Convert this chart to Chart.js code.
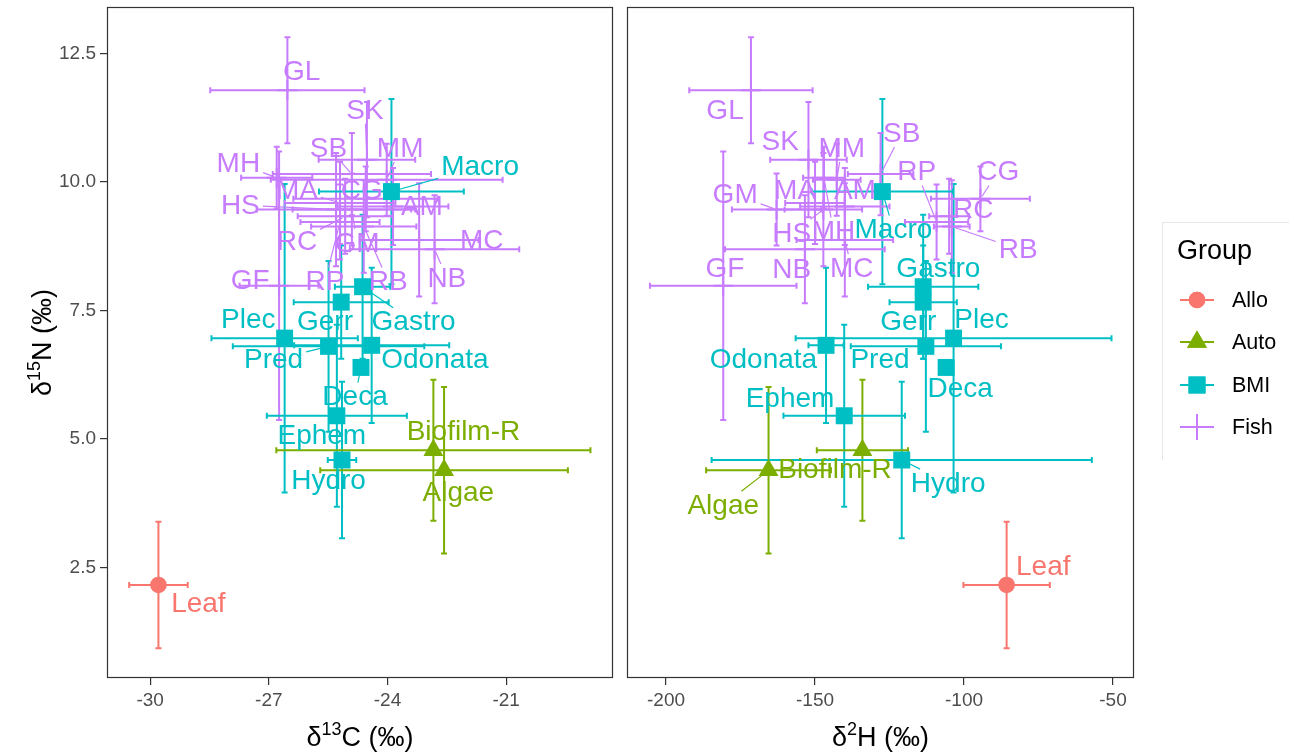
<!DOCTYPE html>
<html>
<head>
<meta charset="utf-8">
<script src="https://cdn.jsdelivr.net/npm/chart.js@4.4.1/dist/chart.umd.min.js"></script>
<style>
    body { margin: 0; background: #fff; }
    #panelC { position: absolute; left: 0; top: 0; }
    #panelH { position: absolute; left: 620px; top: 0; }
</style>
</head>
<body>
<canvas id="panelC" width="620" height="753"></canvas>
<canvas id="panelH" width="669" height="753"></canvas>
<script>
// taxa and their group
var taxa = ['Leaf', 'Biofilm-R', 'Algae', 'Plec', 'Gerr', 'Gastro', 'Pred', 'Odonata', 'Deca', 'Ephem', 'Hydro', 'Macro',
    'GL', 'SK', 'SB', 'MM', 'MH', 'MA', 'CG', 'AM', 'HS', 'GM', 'RC', 'RP', 'RB', 'MC', 'NB', 'GF'];
var taxonGroup = ['Allo', 'Auto', 'Auto', 'BMI', 'BMI', 'BMI', 'BMI', 'BMI', 'BMI', 'BMI', 'BMI', 'BMI',
    'Fish', 'Fish', 'Fish', 'Fish', 'Fish', 'Fish', 'Fish', 'Fish', 'Fish', 'Fish', 'Fish', 'Fish', 'Fish', 'Fish', 'Fish', 'Fish'];

// means and sd
var d15N = [2.16, 4.78, 4.39, 6.96, 7.66, 7.96, 6.80, 6.82, 6.39, 5.45, 4.59, 9.81,
    11.78, 10.43, 10.15, 10.04, 10.08, 9.59, 9.67, 9.52, 9.46, 9.46, 9.33, 9.22, 9.13, 8.87, 8.69, 7.98];
var d15Nsd = [1.23, 1.37, 1.62, 3.0, 1.1, 1.4, 1.66, 1.51, null, 1.77, 1.52, 1.8,
    1.03, 1.12, 0.8, 0.7, 0.6, 0.8, 0.63, 0.75, 1.1, 0.7, 0.73, 0.73, 0.9, 1.1, 1.05, 2.61];
var d13C = [-29.79, -22.84, -22.57, -26.6, -25.17, -24.63, -25.49, -24.40, -24.67, -25.28, -25.15, -23.9,
    -26.53, -24.52, -24.9, -24.02, -26.8, -25.2, -24.55, -23.86, -25.3, -24.9, -25.07, -25.2, -24.6, -23.2, -22.81, -26.74];
var d13Csd = [0.74, 3.97, 3.13, 1.85, 1.2, 0.7, 2.42, 1.96, null, 1.77, 0.36, 1.83,
    1.95, 1.22, 2.0, 2.93, 0.9, 1.4, 1.83, 1.4, 2.0, 1.5, 1.2, 1.0, 1.33, 1.5, 2.14, 1.0];
var d2H = [-85.7, -134.1, -165.6, -103.5, -113.7, -113.7, -112.8, -146.3, -106.0, -140.2, -120.9, -127.4,
    -171.5, -152.2, -128.0, -142.7, -147.0, -150.0, -94.5, -140.0, -147.2, -162.9, -105.0, -109.2, -104.1, -140.0, -153.4, -180.8];
var d2Hsd = [14.5, 15.3, 20.95, 53, 11.3, 18.5, 25.2, 5.9, null, 20.4, 63.8, 23.7,
    20.7, 12.85, 11.0, 8.0, 7.0, 10.0, 16.6, 15.0, 13.0, 15.0, 6.7, 10.6, 6.0, 16.2, 26.8, 24.6];

var groups = ['Allo', 'Auto', 'BMI', 'Fish'];
var ticksN = [2.5, 5.0, 7.5, 10.0, 12.5];
var ticksC = [-30, -27, -24, -21];
var ticksH = [-200, -150, -100, -50];

// where the repelled labels sit (data units of each panel)
var labelAtC = {
    'Leaf': [-28.78, 1.80], 'Biofilm-R': [-22.08, 5.14], 'Algae': [-22.21, 3.97], 'Plec': [-27.52, 7.32],
    'Gerr': [-25.58, 7.28], 'Gastro': [-23.34, 7.28], 'Pred': [-26.88, 6.54], 'Odonata': [-22.80, 6.54],
    'Deca': [-24.82, 5.82], 'Ephem': [-25.66, 5.08], 'Hydro': [-25.49, 4.20], 'Macro': [-21.66, 10.30],
    'GL': [-26.17, 12.15], 'SK': [-24.57, 11.40], 'SB': [-25.49, 10.66], 'MM': [-23.68, 10.66],
    'MH': [-27.77, 10.36], 'MA': [-26.29, 9.84], 'CG': [-24.65, 9.84], 'AM': [-23.13, 9.52],
    'HS': [-27.72, 9.55], 'GM': [-24.77, 8.81], 'RC': [-26.29, 8.84], 'RP': [-25.58, 8.06],
    'RB': [-23.98, 8.06], 'MC': [-21.62, 8.87], 'NB': [-22.5, 8.13], 'GF': [-27.47, 8.09]
};
var labelAtH = {
    'Leaf': [-73.4, 2.52], 'Biofilm-R': [-143.3, 4.40], 'Algae': [-180.8, 3.71], 'Plec': [-94.1, 7.32],
    'Gerr': [-118.7, 7.28], 'Gastro': [-108.6, 8.32], 'Pred': [-128.2, 6.54], 'Odonata': [-167.3, 6.54],
    'Deca': [-101.3, 5.99], 'Ephem': [-158.4, 5.79], 'Hydro': [-105.3, 4.14], 'Macro': [-123.7, 9.07],
    'GL': [-180.2, 11.40], 'SK': [-161.7, 10.78], 'SB': [-120.9, 10.95], 'MM': [-141.0, 10.66],
    'MH': [-143.8, 9.03], 'MA': [-156.7, 9.84], 'CG': [-88.5, 10.20], 'AM': [-136.6, 9.84],
    'HS': [-157.8, 9.00], 'GM': [-176.8, 9.75], 'RC': [-96.9, 9.46], 'RP': [-115.9, 10.20],
    'RB': [-81.8, 8.69], 'MC': [-137.7, 8.32], 'NB': [-157.8, 8.29], 'GF': [-180.2, 8.32]
};

var FONT = '"Liberation Sans", Arial, Helvetica, sans-serif';
var colors = ['#F8766D', '#7CAE00', '#00BFC4', '#C77CFF'];
var shapes = ['circle', 'triangle', 'rect', 'cross'];
var radii = [8.3, 11.5, 12, 10];

Chart.defaults.font.family = FONT;

// sd bars: vertical ones first, then horizontal
var errorBars = {
    id: 'errorBars',
    beforeDatasetsDraw: function (chart) {
        var ctx = chart.ctx, sx = chart.scales.x, sy = chart.scales.y;
        ctx.save();
        ctx.lineWidth = 2;
        chart.data.datasets.forEach(function (ds) {
            ctx.strokeStyle = ds.borderColor;
            ds.data.forEach(function (p) {
                if (p.ysd == null) return;
                var x = sx.getPixelForValue(p.x);
                var y1 = sy.getPixelForValue(p.y - p.ysd), y2 = sy.getPixelForValue(p.y + p.ysd);
                ctx.beginPath();
                ctx.moveTo(x, y1); ctx.lineTo(x, y2);
                ctx.moveTo(x - 3, y1); ctx.lineTo(x + 3, y1);
                ctx.moveTo(x - 3, y2); ctx.lineTo(x + 3, y2);
                ctx.stroke();
            });
        });
        chart.data.datasets.forEach(function (ds) {
            ctx.strokeStyle = ds.borderColor;
            ds.data.forEach(function (p) {
                if (p.xsd == null) return;
                var y = sy.getPixelForValue(p.y);
                var x1 = sx.getPixelForValue(p.x - p.xsd), x2 = sx.getPixelForValue(p.x + p.xsd);
                ctx.beginPath();
                ctx.moveTo(x1, y); ctx.lineTo(x2, y);
                ctx.moveTo(x1, y - 3); ctx.lineTo(x1, y + 3);
                ctx.moveTo(x2, y - 3); ctx.lineTo(x2, y + 3);
                ctx.stroke();
            });
        });
        ctx.restore();
    }
};

// text labels with a segment when pushed away from the point
var textLabels = {
    id: 'textLabels',
    afterDatasetsDraw: function (chart, args, opts) {
        var ctx = chart.ctx, sx = chart.scales.x, sy = chart.scales.y;
        ctx.save();
        ctx.font = '28px ' + FONT;
        ctx.textAlign = 'center';
        ctx.textBaseline = 'middle';
        var items = [];
        chart.data.datasets.forEach(function (ds) {
            ds.data.forEach(function (p) {
                var at = opts.at[p.name];
                items.push({
                    name: p.name, color: ds.borderColor,
                    lx: sx.getPixelForValue(at[0]), ly: sy.getPixelForValue(at[1]),
                    px: sx.getPixelForValue(p.x), py: sy.getPixelForValue(p.y)
                });
            });
        });
        items.forEach(function (it) {
            var hw = ctx.measureText(it.name).width / 2 + 3, hh = 14;
            var dx = it.px - it.lx, dy = it.py - it.ly;
            var dist = Math.sqrt(dx * dx + dy * dy);
            var t = Math.min(dx ? hw / Math.abs(dx) : Infinity, dy ? hh / Math.abs(dy) : Infinity);
            if (t < 1 && (1 - t) * dist > 14) {
                ctx.strokeStyle = it.color;
                ctx.lineWidth = 1.2;
                ctx.beginPath();
                ctx.moveTo(it.lx + t * dx, it.ly + t * dy);
                ctx.lineTo(it.px - dx / dist * 3, it.py - dy / dist * 3);
                ctx.stroke();
            }
        });
        items.forEach(function (it) {
            ctx.fillStyle = it.color;
            ctx.fillText(it.name, it.lx, it.ly + 1);
        });
        ctx.restore();
    }
};

function drawSup(ctx, parts, x, y) {
    var total = 0;
    parts.forEach(function (p) {
        ctx.font = p[1] + 'px ' + FONT;
        p.w = ctx.measureText(p[0]).width;
        total += p.w;
    });
    var cx = x - total / 2;
    ctx.textAlign = 'left';
    ctx.textBaseline = 'alphabetic';
    parts.forEach(function (p) {
        ctx.font = p[1] + 'px ' + FONT;
        ctx.fillText(p[0], cx, y - p[2]);
        cx += p.w;
    });
}

// panel border, axis titles, legend
var decorations = {
    id: 'decorations',
    afterDraw: function (chart, args, opts) {
        var ctx = chart.ctx, a = chart.chartArea;
        ctx.save();
        ctx.strokeStyle = '#333333';
        ctx.lineWidth = 1.2;
        ctx.strokeRect(a.left + 0.5, a.top + 0.5, a.right - a.left - 1, a.bottom - a.top - 1);
        ctx.fillStyle = '#000000';
        drawSup(ctx, [['δ', 27, 0], [opts.sup, 18, 11], [opts.rest, 27, 0]], (a.left + a.right) / 2, 746);
        if (opts.yTitle) {
            ctx.save();
            ctx.translate(51, (a.top + a.bottom) / 2);
            ctx.rotate(-Math.PI / 2);
            drawSup(ctx, [['δ', 27, 0], ['15', 18, 11], ['N (‰)', 27, 0]], 0, 0);
            ctx.restore();
        }
        if (opts.legend) drawLegend(ctx, -620);
        ctx.restore();
    }
};

function drawLegend(ctx, off) {
    ctx.strokeStyle = '#e6e6e6';
    ctx.lineWidth = 1;
    ctx.beginPath();
    ctx.moveTo(1162 + off, 222.5); ctx.lineTo(1289 + off, 222.5);
    ctx.moveTo(1162.5 + off, 222); ctx.lineTo(1162.5 + off, 460);
    ctx.stroke();
    ctx.fillStyle = '#000';
    ctx.font = '27px ' + FONT;
    ctx.textAlign = 'left';
    ctx.textBaseline = 'middle';
    ctx.fillText('Group', 1177 + off, 252);
    var ys = [300, 342, 385, 427];
    groups.forEach(function (g, i) {
        var cx = 1197 + off, cy = ys[i];
        ctx.strokeStyle = colors[i];
        ctx.lineWidth = 2;
        ctx.beginPath();
        ctx.moveTo(cx - 17, cy); ctx.lineTo(cx + 17, cy);
        if (g === 'Fish') { ctx.moveTo(cx, cy - 13); ctx.lineTo(cx, cy + 13); }
        ctx.stroke();
        if (g !== 'Fish') {
            ctx.fillStyle = colors[i];
            Chart.helpers.drawPoint(ctx, { pointStyle: shapes[i], radius: radii[i], borderWidth: 0 }, cx, cy);
            ctx.fill();
        }
        ctx.fillStyle = '#000';
        ctx.font = '21.5px ' + FONT;
        ctx.fillText(g, 1232 + off, cy + 1);
    });
}

function noPadding(s) {
    s.paddingTop = 0;
    s.paddingBottom = 0;
    s.paddingLeft = 0;
    s.paddingRight = 0;
}

function makePanel(id, xs, xsd, labelAt, xTicks, xMin, xMax, isLeft) {
    var datasets = groups.map(function (g, gi) {
        var pts = [];
        taxa.forEach(function (t, i) {
            if (taxonGroup[i] === g) {
                pts.push({ x: xs[i], y: d15N[i], xsd: xsd[i], ysd: d15Nsd[i], name: t });
            }
        });
        return {
            label: g,
            data: pts,
            pointStyle: shapes[gi],
            pointRadius: radii[gi],
            backgroundColor: colors[gi],
            borderColor: colors[gi],
            borderWidth: g === 'Fish' ? 2 : 0
        };
    });
    return new Chart(document.getElementById(id), {
        type: 'scatter',
        data: { datasets: datasets },
        options: {
            responsive: false,
            animation: false,
            devicePixelRatio: 1,
            events: [],
            layout: {
                autoPadding: false,
                padding: isLeft ? { left: 0, right: 7, top: 7, bottom: 0 } : { left: 7, right: 155, top: 7, bottom: 0 }
            },
            plugins: {
                legend: { display: false },
                tooltip: { enabled: false },
                textLabels: { at: labelAt },
                decorations: isLeft ? { sup: '13', rest: 'C (‰)', yTitle: true } : { sup: '2', rest: 'H (‰)', legend: true }
            },
            scales: {
                x: {
                    type: 'linear', min: xMin, max: xMax,
                    afterBuildTicks: function (s) { s.ticks = xTicks.map(function (v) { return { value: v }; }); },
                    afterFit: function (s) { s.height = 75; noPadding(s); },
                    grid: { display: true, drawOnChartArea: false, drawTicks: true, tickLength: 7, color: '#333333', lineWidth: 1.2 },
                    border: { display: false },
                    ticks: { color: '#4D4D4D', font: { size: 19 }, padding: 4, maxRotation: 0 }
                },
                y: {
                    type: 'linear', min: 0.35, max: 13.4,
                    display: isLeft,
                    afterBuildTicks: function (s) { s.ticks = ticksN.map(function (v) { return { value: v }; }); },
                    afterFit: function (s) { s.width = isLeft ? 107 : 0; noPadding(s); },
                    grid: { display: true, drawOnChartArea: false, drawTicks: true, tickLength: 7, color: '#333333', lineWidth: 1.2 },
                    border: { display: false },
                    ticks: { color: '#4D4D4D', font: { size: 19 }, padding: 4, callback: function (v) { return v.toFixed(1); } }
                }
            }
        },
        plugins: [errorBars, textLabels, decorations]
    });
}

makePanel('panelC', d13C, d13Csd, labelAtC, ticksC, -31.09, -18.30, true);
makePanel('panelH', d2H, d2Hsd, labelAtH, ticksH, -213.1, -42.95, false);
</script>
</body>
</html>
